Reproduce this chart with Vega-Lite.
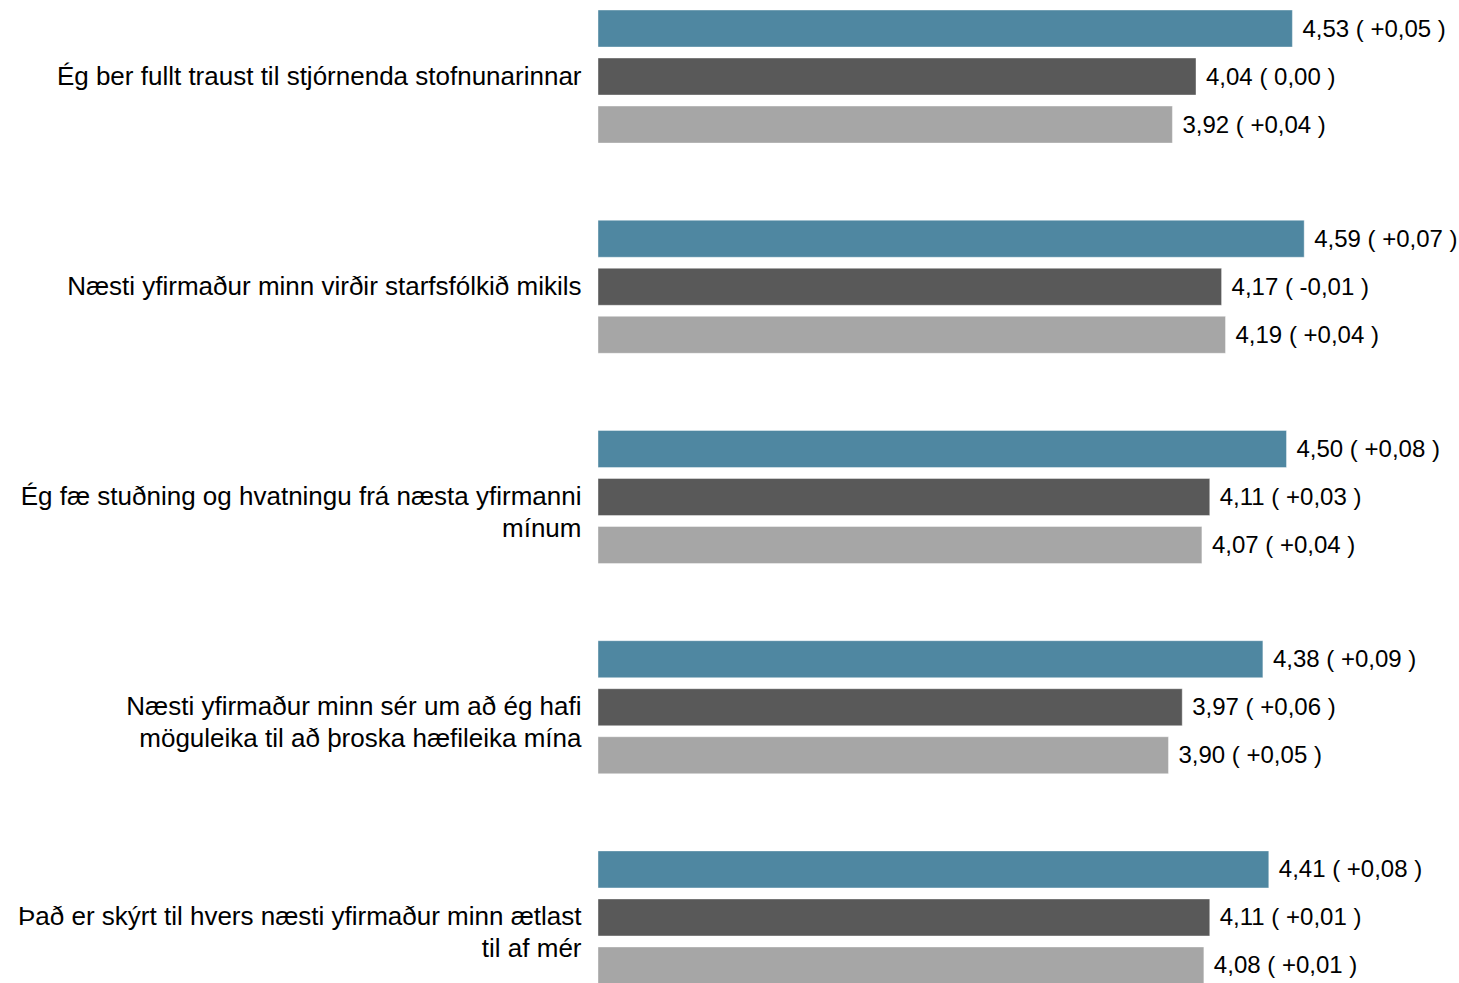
{
  "$schema": "https://vega.github.io/schema/vega-lite/v6.json",
  "autosize": "none",
  "padding": {"left": 598, "top": 0, "right": 0, "bottom": 0},
  "width": 861,
  "height": 994,
  "background": "white",
  "config": {"view": {"stroke": null}, "font": "Liberation Sans"},
  "data": {"values": [
    {"q": "Ég ber fullt traust til stjórnenda stofnunarinnar", "order": 1, "series": "Stofnun", "s": 1, "value": 4.53, "label": "4,53 ( +0,05 )"},
    {"q": "Ég ber fullt traust til stjórnenda stofnunarinnar", "order": 1, "series": "Samanburður 1", "s": 2, "value": 4.04, "label": "4,04 ( 0,00 )"},
    {"q": "Ég ber fullt traust til stjórnenda stofnunarinnar", "order": 1, "series": "Samanburður 2", "s": 3, "value": 3.92, "label": "3,92 ( +0,04 )"},
    {"q": "Næsti yfirmaður minn virðir starfsfólkið mikils", "order": 2, "series": "Stofnun", "s": 1, "value": 4.59, "label": "4,59 ( +0,07 )"},
    {"q": "Næsti yfirmaður minn virðir starfsfólkið mikils", "order": 2, "series": "Samanburður 1", "s": 2, "value": 4.17, "label": "4,17 ( -0,01 )"},
    {"q": "Næsti yfirmaður minn virðir starfsfólkið mikils", "order": 2, "series": "Samanburður 2", "s": 3, "value": 4.19, "label": "4,19 ( +0,04 )"},
    {"q": "Ég fæ stuðning og hvatningu frá næsta yfirmanni|mínum", "order": 3, "series": "Stofnun", "s": 1, "value": 4.50, "label": "4,50 ( +0,08 )"},
    {"q": "Ég fæ stuðning og hvatningu frá næsta yfirmanni|mínum", "order": 3, "series": "Samanburður 1", "s": 2, "value": 4.11, "label": "4,11 ( +0,03 )"},
    {"q": "Ég fæ stuðning og hvatningu frá næsta yfirmanni|mínum", "order": 3, "series": "Samanburður 2", "s": 3, "value": 4.07, "label": "4,07 ( +0,04 )"},
    {"q": "Næsti yfirmaður minn sér um að ég hafi|möguleika til að þroska hæfileika mína", "order": 4, "series": "Stofnun", "s": 1, "value": 4.38, "label": "4,38 ( +0,09 )"},
    {"q": "Næsti yfirmaður minn sér um að ég hafi|möguleika til að þroska hæfileika mína", "order": 4, "series": "Samanburður 1", "s": 2, "value": 3.97, "label": "3,97 ( +0,06 )"},
    {"q": "Næsti yfirmaður minn sér um að ég hafi|möguleika til að þroska hæfileika mína", "order": 4, "series": "Samanburður 2", "s": 3, "value": 3.90, "label": "3,90 ( +0,05 )"},
    {"q": "Það er skýrt til hvers næsti yfirmaður minn ætlast|til af mér", "order": 5, "series": "Stofnun", "s": 1, "value": 4.41, "label": "4,41 ( +0,08 )"},
    {"q": "Það er skýrt til hvers næsti yfirmaður minn ætlast|til af mér", "order": 5, "series": "Samanburður 1", "s": 2, "value": 4.11, "label": "4,11 ( +0,01 )"},
    {"q": "Það er skýrt til hvers næsti yfirmaður minn ætlast|til af mér", "order": 5, "series": "Samanburður 2", "s": 3, "value": 4.08, "label": "4,08 ( +0,01 )"}
  ]},
  "encoding": {
    "y": {
      "field": "q", "type": "nominal",
      "sort": {"field": "order", "op": "min", "order": "ascending"},
      "scale": {"paddingInner": 0.367, "paddingOuter": 0.0476},
      "axis": {
        "title": null, "domain": false, "ticks": false, "grid": false,
        "labelPadding": 17, "labelFontSize": 26, "labelColor": "#000000",
        "labelLimit": 0, "labelLineHeight": 32, "labelFont": "Liberation Sans",
        "labelExpr": "split(datum.label, '|')"
      }
    },
    "yOffset": {
      "field": "s", "type": "ordinal",
      "scale": {"paddingInner": 0.229, "paddingOuter": 0}
    },
    "x": {
      "field": "value", "type": "quantitative",
      "scale": {"domain": [1, 5.377], "zero": false, "nice": false},
      "axis": null
    }
  },
  "layer": [
    {
      "mark": {"type": "bar", "x": 0, "stroke": "#ffffff", "strokeOpacity": 0.4, "strokeWidth": 1},
      "encoding": {
        "x2": {"datum": 1},
        "color": {
          "field": "series", "type": "nominal",
          "scale": {"domain": ["Stofnun", "Samanburður 1", "Samanburður 2"], "range": ["#4F87A1", "#595959", "#A6A6A6"]},
          "legend": null
        }
      }
    },
    {
      "mark": {"type": "text", "align": "left", "baseline": "middle", "dx": 10, "dy": 1, "fontSize": 24, "color": "#000000", "font": "Liberation Sans"},
      "encoding": {"text": {"field": "label"}}
    }
  ]
}
